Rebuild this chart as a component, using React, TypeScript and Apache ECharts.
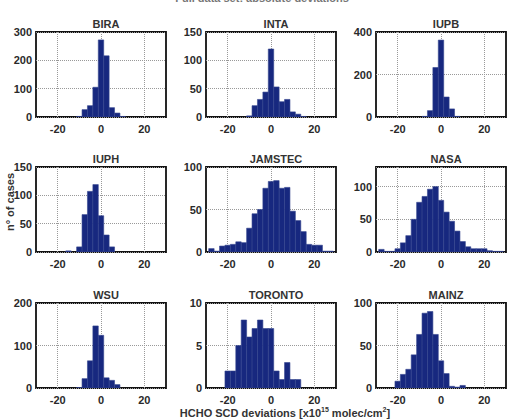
import React, { useEffect, useRef } from "react";
import * as echarts from "echarts";

const panelNames = ["BIRA", "INTA", "IUPB", "IUPH", "JAMSTEC", "NASA", "WSU", "TORONTO", "MAINZ"];
const binCenters = [-27.5, -25, -22.5, -20, -17.5, -15, -12.5, -10, -7.5, -5, -2.5, 0, 2.5, 5, 7.5, 10, 12.5, 15, 17.5, 20, 22.5, 25, 27.5];
const binWidth = 2.5;

const biraCounts = [0, 0, 0, 0, 0, 0, 0, 2, 26, 40, 105, 272, 216, 33, 14, 2, 0, 0, 0, 0, 0, 0, 0];
const intaCounts = [0, 0, 0, 0, 0, 0, 0, 2, 20, 31, 44, 120, 53, 27, 31, 9, 5, 1, 0, 0, 0, 0, 0];
const iupbCounts = [0, 0, 0, 0, 0, 0, 0, 0, 3, 30, 233, 362, 94, 38, 3, 0, 0, 0, 0, 0, 0, 0, 0];
const iuphCounts = [0, 0, 0, 0, 0, 2, 0, 9, 66, 107, 119, 64, 30, 9, 0, 0, 0, 0, 0, 0, 0, 0, 0];
const jamstecCounts = [4, 1, 7, 8, 9, 12, 11, 28, 45, 50, 75, 83, 84, 75, 76, 48, 37, 24, 9, 8, 8, 1, 1];
const nasaCounts = [4, 1, 1, 5, 14, 25, 50, 76, 85, 96, 100, 79, 61, 47, 32, 16, 8, 5, 5, 5, 2, 1, 1];
const wsuCounts = [0, 0, 0, 0, 0, 0, 0, 1, 22, 64, 146, 124, 24, 18, 8, 0, 0, 0, 0, 0, 0, 0, 0];
const torontoCounts = [0, 0, 0, 2, 2, 5, 8, 6, 7, 8, 7, 7, 2, 1, 3, 1, 1, 0, 0, 0, 0, 0, 0];
const mainzCounts = [0, 0, 0, 8, 16, 22, 39, 63, 88, 90, 63, 32, 17, 2, 1, 3, 0, 0, 0, 0, 0, 0, 0];

const panelCounts = [biraCounts, intaCounts, iupbCounts, iuphCounts, jamstecCounts, nasaCounts, wsuCounts, torontoCounts, mainzCounts];
const yMax = [300, 150, 400, 150, 100, 130, 200, 10, 100];
const yInterval = [100, 50, 200, 50, 50, 50, 100, 5, 50];
const xMin = -30;
const xMax = 30;
const xTickValues = [-20, 0, 20];

const FONT = "'Liberation Sans', Arial, sans-serif";

export default function App() {
  const ref = useRef<HTMLDivElement>(null);
  useEffect(() => {
    if (!ref.current) return;
    const chart = echarts.init(ref.current, null, { renderer: "svg" });
    const colLeft = [36, 206, 376];
    const rowTop = [32, 167, 303];
    const gw = 130;
    const gh = 85;

    const grids: any[] = [];
    const xAxes: any[] = [];
    const yAxes: any[] = [];
    const series: any[] = [];
    const titles: any[] = [];

    panelNames.forEach((name, i) => {
      const r = Math.floor(i / 3);
      const c = i % 3;
      grids.push({
        left: colLeft[c],
        top: rowTop[r],
        width: gw,
        height: gh,
        show: true,
        borderColor: "#111",
        borderWidth: 1.8,
        backgroundColor: "#fff",
        containLabel: false,
      });
      xAxes.push({
        type: "value",
        gridIndex: i,
        min: xMin,
        max: xMax,
        axisLine: { show: false },
        axisTick: { show: false, customValues: xTickValues },
        axisLabel: {
          customValues: xTickValues,
          fontSize: 11,
          fontWeight: "bold",
          color: "#2a2a2a",
          fontFamily: FONT,
          margin: 6,
        },
        splitLine: { show: true, lineStyle: { color: "#999", type: "dotted", width: 1 } },
      });
      yAxes.push({
        type: "value",
        gridIndex: i,
        min: 0,
        max: yMax[i],
        interval: yInterval[i],
        axisLine: { show: false },
        axisTick: { show: false },
        axisLabel: {
          fontSize: 11,
          fontWeight: "bold",
          color: "#2a2a2a",
          fontFamily: FONT,
          margin: 4,
          showMaxLabel: yMax[i] % yInterval[i] === 0,
        },
        splitLine: { show: true, lineStyle: { color: "#999", type: "dotted", width: 1 } },
      });
      series.push({
        type: "custom",
        xAxisIndex: i,
        yAxisIndex: i,
        clip: true,
        encode: { x: 0, y: 1 },
        data: binCenters.map((b, k) => [b, panelCounts[i][k]]),
        renderItem: (params: any, api: any) => {
          const ctr = api.value(0);
          const n = api.value(1);
          if (!n) return null;
          const p0 = api.coord([ctr - binWidth / 2, n]);
          const p1 = api.coord([ctr + binWidth / 2, 0]);
          return {
            type: "rect",
            shape: { x: p0[0], y: p0[1], width: p1[0] - p0[0], height: p1[1] - p0[1] },
            style: { fill: "#17287f", stroke: "#34458f", lineWidth: 0.6 },
          };
        },
      });
      titles.push({
        text: name,
        left: colLeft[c] + gw / 2,
        top: rowTop[r] - 19,
        textAlign: "center",
        textStyle: { fontSize: 11, fontWeight: "bold", color: "#333", fontFamily: FONT },
      });
    });

    titles.push({
      text: "HCHO SCD deviations [x10{sup|15} molec/cm{sup|2}]",
      left: 280,
      top: 401,
      textAlign: "center",
      textStyle: {
        fontSize: 11,
        fontWeight: "bold",
        color: "#333",
        fontFamily: FONT,
        rich: {
          sup: { fontSize: 7, fontWeight: "bold", color: "#333", fontFamily: FONT, verticalAlign: "top", padding: [0, 0, 6, 0] },
        },
      },
    });

    chart.setOption({
      animation: false,
      backgroundColor: "#fff",
      title: titles,
      grid: grids,
      xAxis: xAxes,
      yAxis: yAxes,
      series,
      graphic: [
        {
          type: "text",
          x: 10,
          y: 202,
          rotation: Math.PI / 2,
          style: {
            text: "n° of cases",
            fontSize: 11,
            fontWeight: "bold",
            fill: "#333",
            fontFamily: FONT,
            textAlign: "center",
            textVerticalAlign: "middle",
          },
        },
        {
          type: "text",
          x: 262,
          y: -8,
          style: {
            text: "Full data set: absolute deviations",
            fontSize: 11,
            fontWeight: "bold",
            fill: "#777",
            fontFamily: FONT,
            textAlign: "center",
            textVerticalAlign: "top",
          },
        },
      ],
    });
    return () => chart.dispose();
  }, []);
  return <div ref={ref} style={{ position: "absolute", left: 0, top: 0, width: 520, height: 420 }} />;
}
